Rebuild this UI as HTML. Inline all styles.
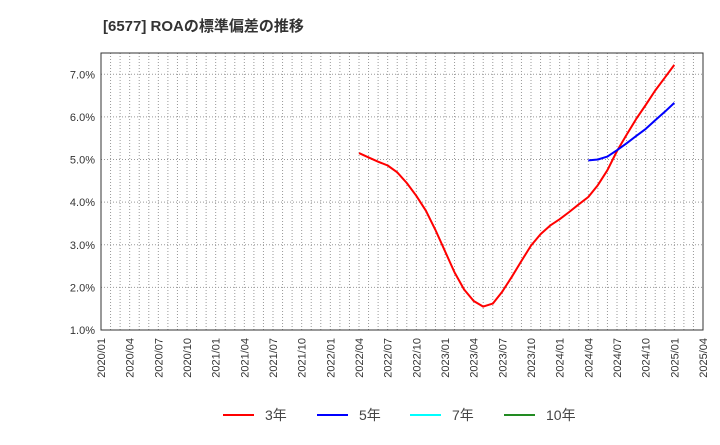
<!DOCTYPE html>
<html><head><meta charset="utf-8"><style>
body{margin:0;background:#fff;width:720px;height:440px;overflow:hidden;font-family:"Liberation Sans","Noto Sans CJK JP",sans-serif}
</style></head><body>
<svg id="c" width="720" height="440" xmlns="http://www.w3.org/2000/svg">
<text x="103" y="31" font-size="15" font-weight="bold" fill="#333">[6577]  ROAの標準偏差の推移</text>
</svg>
<script>
const yTicks=[1,2,3,4,5,6,7];
const xLabels=["2020/01","2020/04","2020/07","2020/10","2021/01","2021/04","2021/07","2021/10","2022/01","2022/04","2022/07","2022/10","2023/01","2023/04","2023/07","2023/10","2024/01","2024/04","2024/07","2024/10","2025/01","2025/04"];
const red3Start=27;
const red3=[5.15,5.05,4.95,4.86,4.70,4.45,4.15,3.80,3.35,2.85,2.35,1.95,1.68,1.55,1.62,1.90,2.25,2.62,2.98,3.25,3.45,3.60,3.77,3.95,4.12,4.40,4.75,5.20,5.58,5.95,6.28,6.62,6.92,7.22];
const blue5Start=51;
const blue5=[4.98,5.00,5.07,5.22,5.38,5.55,5.72,5.92,6.12,6.33];
const legendNames=["3年","5年","7年","10年"];
const legendColors=["#ff0000","#0000ff","#00ffff","#228b22"];

const L=101,R=703,T=53,B=330,yMin=1,yMax=7.5,months=63;
const X=m=>L+m*(R-L)/months;
const Y=v=>B-(v-yMin)/(yMax-yMin)*(B-T);
const svg=document.getElementById('c');
const NS="http://www.w3.org/2000/svg";
function mk(t,a){const e=document.createElementNS(NS,t);for(const k in a)e.setAttribute(k,a[k]);svg.appendChild(e);return e;}
const bg=mk('rect',{x:L,y:T,width:R-L,height:B-T,fill:'#fff'});


for(let m=1;m<months;m++){
 const g=mk('line',{x1:X(m),x2:X(m),y1:T,y2:B,stroke:'#999','stroke-dasharray':'1,2','stroke-width':1});
 
 
}
yTicks.forEach(v=>{
 const g=mk('line',{x1:L,x2:R,y1:Y(v),y2:Y(v),stroke:'#999','stroke-dasharray':'1,2','stroke-width':1});
 
 
 const t=mk('text',{x:L-6,y:Y(v)+4,'font-size':11,'text-anchor':'end',fill:'#333'});
 t.textContent=v.toFixed(1)+'%';
 
 
});
xLabels.forEach((s,i)=>{
 const x=X(i*3);
 const t=mk('text',{x:x+4,y:338,'font-size':11,'text-anchor':'end',fill:'#333',transform:`rotate(-90 ${x+4} 338)`});
 t.textContent=s;
 
 
});
const fr=mk('rect',{x:L,y:T,width:R-L,height:B-T,fill:'none',stroke:'#333','stroke-width':1});


function series(arr,start,color,name){
 const p=arr.map((v,i)=>X(start+i).toFixed(1)+','+Y(v).toFixed(1)).join(' ');
 const l=mk('polyline',{points:p,fill:'none',stroke:color,'stroke-width':2,'stroke-linejoin':'round'});
 
 
}
series(red3,red3Start,'#ff0000','series-3y');
series(blue5,blue5Start,'#0000ff','series-5y');
const lx=[223,317,410,504];
legendNames.forEach((n,i)=>{
 const ln=mk('line',{x1:lx[i],x2:lx[i]+31,y1:415,y2:415,stroke:legendColors[i],'stroke-width':2});
 
 
 const t=mk('text',{x:lx[i]+42,y:420,'font-size':14,fill:'#444'});
 t.textContent=n;
 
 
});
</script>
</body></html>
